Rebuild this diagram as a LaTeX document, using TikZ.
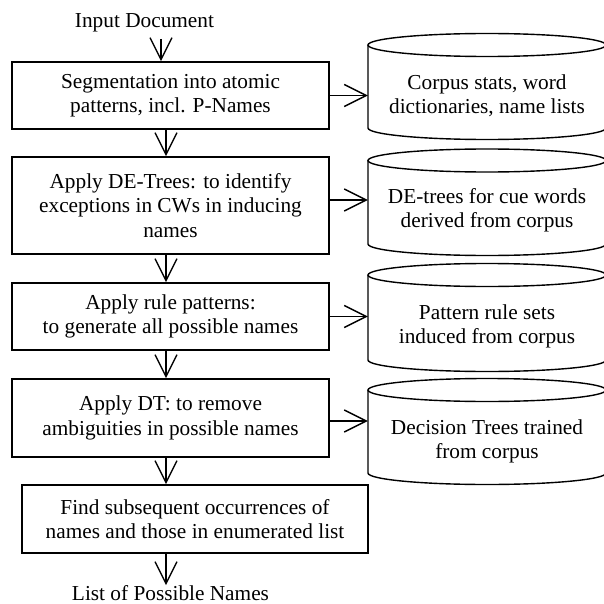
\documentclass[tikz,border=0pt]{standalone}
\usepackage{fontspec}
\setmainfont{Liberation Serif}
\usetikzlibrary{arrows.meta}
\begin{document}
\begin{tikzpicture}[x=1pt,y=-1pt,
  every node/.style={font=\fontsize{21.3}{24.5}\selectfont, align=center, inner sep=0pt},
  procbox/.style={draw, line width=1.6pt},
  store/.style={minimum width=238pt},
  storeline/.style={line width=1.4pt},
  flow/.style={-{Straight Barb[length=22pt,width=22pt]}, line width=1.4pt}]
\useasboundingbox (0,0) rectangle (603,604);
% process boxes
\node[procbox, minimum width=317pt, minimum height=67pt] (b1) at (170.5,95.5) {Segmentation into atomic\\patterns, incl. P-Names};
\node[procbox, minimum width=317pt, minimum height=97pt] (b2) at (170.5,205.5) {Apply DE-Trees: to identify\\exceptions in CWs in inducing\\names};
\node[procbox, minimum width=317pt, minimum height=67pt] (b3) at (170.5,316.5) {Apply rule patterns:\\to generate all possible names};
\node[procbox, minimum width=317pt, minimum height=78pt] (b4) at (170.5,418) {Apply DT: to remove\\ambiguities in possible names};
\node[procbox, minimum width=346pt, minimum height=68pt] (b5) at (195,519) {Find subsequent occurrences of\\names and those in enumerated list};
% input / output labels
\node (in) at (144.5,23) {Input Document};
\node (out) at (170.5,593) {List of Possible Names};
% data stores
\node[store] (c1) at (487,95.5) {Corpus stats, word\\dictionaries, name lists};
\node[store] (c2) at (487,210.5) {DE-trees for cue words\\derived from corpus};
\node[store] (c3) at (487,326.5) {Pattern rule sets\\induced from corpus};
\node[store] (c4) at (487,441.5) {Decision Trees trained\\from corpus};
\foreach \yt/\yb in {45/128, 160.5/244, 275/360, 390/473}{
  \draw[storeline] (487,\yt) ellipse [x radius=119pt, y radius=11.5pt];
  \draw[storeline] (368,\yt) -- (368,\yb) arc[start angle=180, end angle=360, x radius=119pt, y radius=11.5pt] -- (606,\yt);
}
% flow connectors
\coordinate (s0) at (161,39);
\draw[flow] (s0) -- (s0 |- b1.north);
\draw[flow] ([xshift=-4.5pt]b1.south) -- ([xshift=-4.5pt]b1.south |- b2.north);
\draw[flow] ([xshift=-4.5pt]b2.south) -- ([xshift=-4.5pt]b2.south |- b3.north);
\draw[flow] ([xshift=-4.5pt]b3.south) -- ([xshift=-4.5pt]b3.south |- b4.north);
\draw[flow] ([xshift=-4.5pt]b4.south) -- ([xshift=-4.5pt]b4.south |- b5.north);
\draw[flow] ([xshift=-29pt]b5.south) -- ([xshift=-29pt]b5.south |- out.north);
\draw[flow] (b1.east) -- (b1.east -| c1.west);
\draw[flow] ([yshift=5.5pt]b2.east) -- ([yshift=5.5pt]b2.east -| c2.west);
\draw[flow] (b3.east) -- (b3.east -| c3.west);
\draw[flow] ([yshift=-3pt]b4.east) -- ([yshift=-3pt]b4.east -| c4.west);
\end{tikzpicture}
\end{document}
